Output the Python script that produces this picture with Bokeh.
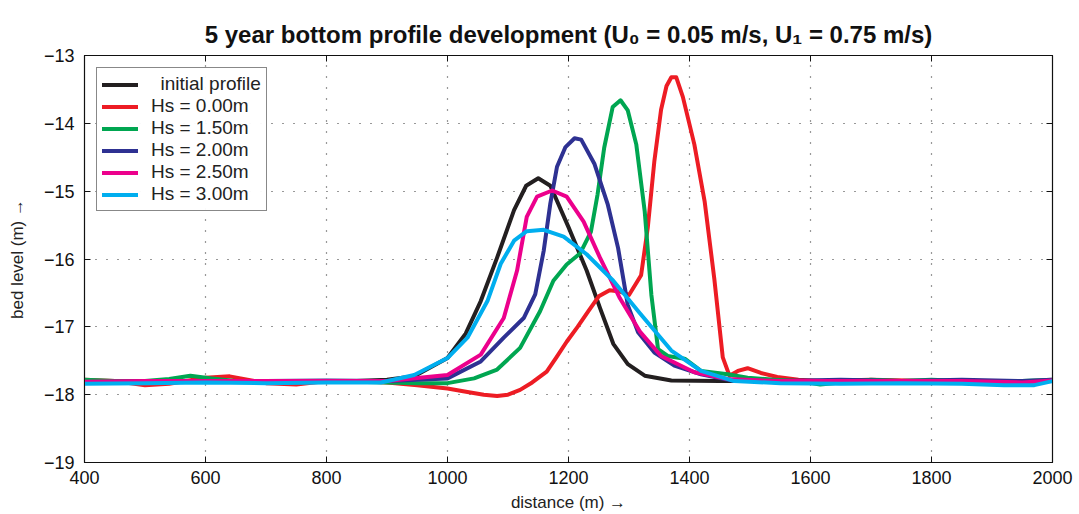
from bokeh.plotting import figure
from bokeh.models import LinearAxis, Range1d, FixedTicker, Legend, LegendItem
from bokeh.embed import file_html
from bokeh.resources import INLINE

# ---------------- data ----------------
x_init = [400, 500, 600, 700, 800, 850, 900, 945, 1000, 1030, 1055, 1082, 1110, 1130, 1150, 1170, 1200, 1230, 1252, 1274, 1298, 1326, 1370, 1450, 1600, 2000]
y_init = [-17.8, -17.8, -17.8, -17.8, -17.8, -17.8, -17.78, -17.73, -17.46, -17.1, -16.62, -15.98, -15.28, -14.92, -14.81, -14.92, -15.53, -16.17, -16.72, -17.25, -17.55, -17.72, -17.79, -17.8, -17.8, -17.8]

x_hs000 = [400, 450, 500, 540, 600, 640, 700, 750, 800, 850, 900, 950, 1000, 1033, 1060, 1082, 1100, 1120, 1140, 1164, 1180, 1197, 1215, 1232, 1250, 1268, 1285, 1300, 1320, 1331, 1342, 1353, 1362, 1370, 1378, 1389, 1408, 1425, 1441, 1455, 1466, 1480, 1496, 1518, 1545, 1580, 1620, 1700, 1800, 1900, 2000]
y_hs000 = [-17.78, -17.8, -17.86, -17.84, -17.75, -17.73, -17.83, -17.85, -17.8, -17.8, -17.82, -17.86, -17.91, -17.96, -18.0, -18.02, -18.0, -17.93, -17.82, -17.66, -17.45, -17.22, -17.0, -16.78, -16.55, -16.46, -16.48, -16.53, -16.24, -15.54, -14.55, -13.8, -13.45, -13.32, -13.32, -13.61, -14.31, -15.15, -16.29, -17.45, -17.72, -17.65, -17.61, -17.68, -17.74, -17.78, -17.8, -17.78, -17.8, -17.82, -17.8]

x_hs150 = [400, 450, 500, 540, 575, 610, 650, 700, 750, 800, 850, 900, 950, 1000, 1044, 1082, 1120, 1153, 1175, 1197, 1219, 1237, 1248, 1259, 1273, 1286, 1298, 1312, 1326, 1337, 1348, 1364, 1392, 1419, 1463, 1496, 1540, 1580, 1616, 1650, 1700, 1750, 1800, 1850, 1900, 1950, 2000]
y_hs150 = [-17.78, -17.8, -17.8, -17.77, -17.72, -17.76, -17.8, -17.8, -17.8, -17.8, -17.81, -17.82, -17.83, -17.83, -17.76, -17.63, -17.31, -16.77, -16.32, -16.08, -15.92, -15.6, -15.05, -14.36, -13.76, -13.66, -13.81, -14.31, -15.3, -16.53, -17.33, -17.43, -17.47, -17.65, -17.7, -17.75, -17.78, -17.8, -17.85, -17.82, -17.78, -17.8, -17.78, -17.8, -17.82, -17.8, -17.78]

x_hs200 = [400, 500, 600, 700, 800, 900, 1000, 1055, 1093, 1126, 1145, 1159, 1170, 1181, 1195, 1210, 1221, 1243, 1265, 1282, 1298, 1315, 1342, 1375, 1419, 1474, 1550, 1650, 1750, 1850, 1950, 2000]
y_hs200 = [-17.82, -17.8, -17.8, -17.8, -17.79, -17.8, -17.76, -17.51, -17.16, -16.87, -16.52, -15.88, -15.18, -14.64, -14.35, -14.22, -14.24, -14.6, -15.2, -15.84, -16.68, -17.08, -17.38, -17.57, -17.7, -17.8, -17.8, -17.78, -17.8, -17.78, -17.8, -17.78]

x_hs250 = [400, 500, 600, 700, 800, 900, 1000, 1055, 1093, 1115, 1131, 1148, 1173, 1197, 1225, 1252, 1285, 1318, 1353, 1408, 1463, 1550, 1650, 1750, 1850, 1950, 2000]
y_hs250 = [-17.81, -17.8, -17.8, -17.8, -17.8, -17.8, -17.71, -17.41, -16.87, -16.17, -15.38, -15.08, -14.99, -15.08, -15.45, -15.98, -16.58, -17.07, -17.43, -17.67, -17.77, -17.8, -17.8, -17.8, -17.8, -17.82, -17.79]

x_hs300 = [400, 500, 600, 700, 800, 890, 945, 1000, 1033, 1066, 1088, 1110, 1131, 1159, 1192, 1230, 1274, 1318, 1370, 1419, 1474, 1550, 1650, 1750, 1850, 1920, 1970, 2000]
y_hs300 = [-17.84, -17.83, -17.82, -17.83, -17.82, -17.82, -17.71, -17.46, -17.16, -16.62, -16.07, -15.73, -15.59, -15.57, -15.67, -15.93, -16.32, -16.8, -17.35, -17.65, -17.8, -17.83, -17.84, -17.83, -17.84, -17.86, -17.86, -17.8]

series_labels = ["\u2002initial profile", "Hs = 0.00m", "Hs = 1.50m", "Hs = 2.00m", "Hs = 2.50m", "Hs = 3.00m"]
series_colors = ["#231f20", "#ed1c24", "#00a651", "#2e3192", "#ec008c", "#00aeef"]
x_ticks = [400, 600, 800, 1000, 1200, 1400, 1600, 1800, 2000]
y_ticks = [-19, -18, -17, -16, -15, -14, -13]
title_text = "5 year bottom profile development (U\u2080 = 0.05 m/s, U\u2081 = 0.75 m/s)"

FONT = "Liberation Sans"

p = figure(width=1079, height=514, output_backend="svg", toolbar_location=None,
           x_range=Range1d(400, 2000), y_range=Range1d(-19, -13),
           min_border_left=84, min_border_right=27, min_border_top=55, min_border_bottom=51)

p.title.text = title_text
p.title.align = "center"
p.title.offset = 7
p.title.standoff = 16
p.title.text_font = FONT
p.title.text_font_size = "24px"
p.title.text_font_style = "bold"
p.title.text_color = "#111111"

p.outline_line_color = "#111111"
p.outline_line_width = 1.2

xs = [x_init, x_hs000, x_hs150, x_hs200, x_hs250, x_hs300]
ys = [y_init, y_hs000, y_hs150, y_hs200, y_hs250, y_hs300]
items = []
for xv, yv, c, lab in zip(xs, ys, series_colors, series_labels):
    r = p.line(xv, yv, line_color=c, line_width=4, line_join="round", line_cap="round")
    items.append(LegendItem(label=lab, renderers=[r]))

legend = Legend(items=items, location="top_left", margin=12,
                label_text_font=FONT, label_text_font_size="19px", label_text_color="#222222",
                border_line_color="#111111", border_line_width=1,
                glyph_width=36, glyph_height=17, spacing=0, padding=5,
                label_standoff=13, label_height=17)
p.add_layout(legend)

for ax in [p.xaxis[0], p.yaxis[0]]:
    ax.major_label_text_font = FONT
    ax.major_label_text_font_size = "18px"
    ax.major_label_text_color = "#111111"
    ax.axis_label_text_font = FONT
    ax.axis_label_text_font_size = "17px"
    ax.axis_label_text_font_style = "normal"
    ax.axis_label_text_color = "#222222"
    ax.major_tick_in = 6
    ax.major_tick_out = 0
    ax.minor_tick_line_color = None
    ax.axis_line_color = "#111111"
    ax.major_tick_line_color = "#111111"

p.xaxis[0].ticker = FixedTicker(ticks=x_ticks)
p.yaxis[0].ticker = FixedTicker(ticks=y_ticks)
p.yaxis[0].major_label_overrides = {tk: "\u2212%d" % abs(tk) for tk in y_ticks}
p.xaxis[0].axis_label = "distance (m) \u2192"
p.yaxis[0].axis_label = "bed level (m) \u2192"
p.xaxis[0].major_label_standoff = 8
p.yaxis[0].major_label_standoff = 10
p.xaxis[0].axis_label_standoff = 6
p.yaxis[0].axis_label_standoff = 14

top = LinearAxis(ticker=FixedTicker(ticks=x_ticks), major_label_text_font_size="0px",
                 major_tick_in=6, major_tick_out=0, minor_tick_line_color=None,
                 axis_line_color="#111111", major_tick_line_color="#111111", major_label_standoff=0)
right = LinearAxis(ticker=FixedTicker(ticks=y_ticks), major_label_text_font_size="0px",
                   major_tick_in=6, major_tick_out=0, minor_tick_line_color=None,
                   axis_line_color="#111111", major_tick_line_color="#111111", major_label_standoff=0)
p.add_layout(top, "above")
p.add_layout(right, "right")

p.xgrid.ticker = FixedTicker(ticks=x_ticks)
p.ygrid.ticker = FixedTicker(ticks=y_ticks)
p.grid.grid_line_color = "#333333"
p.grid.grid_line_dash = "1 10"
p.grid.grid_line_width = 1.2

p.background_fill_color = "white"
p.border_fill_color = "white"

open("out.html", "w").write(file_html(p, INLINE))
